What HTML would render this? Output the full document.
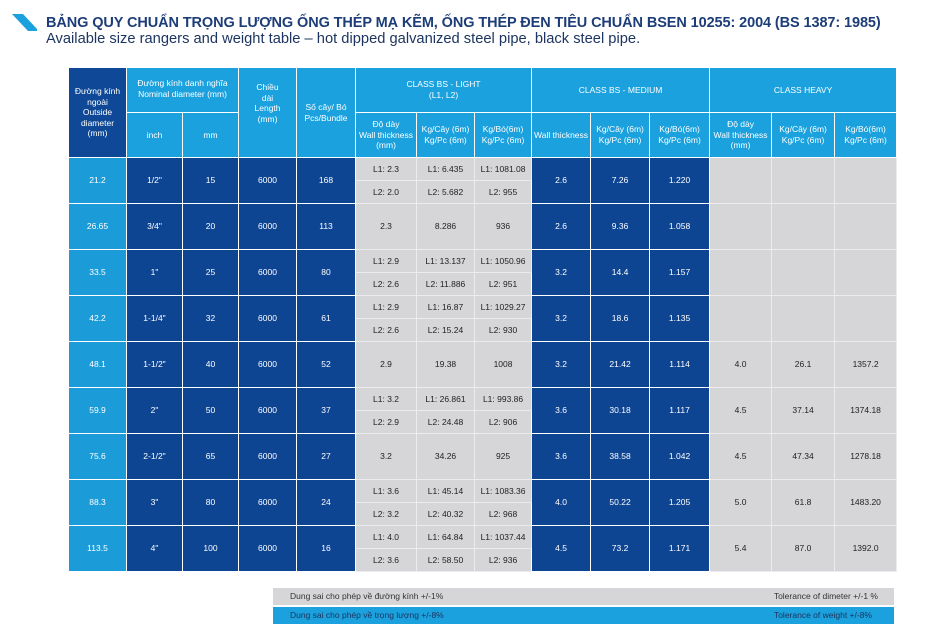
<!DOCTYPE html>
<html><head><meta charset="utf-8"><style>
body{margin:0;width:930px;height:643px;background:#fff;position:relative;overflow:hidden;font-family:"Liberation Sans","DejaVu Sans",sans-serif}
.t1{position:absolute;left:46px;top:15px;font-size:14.5px;font-weight:bold;color:#1d3d78;white-space:nowrap;letter-spacing:-0.1px}
.t2{position:absolute;left:46px;top:31px;font-size:14.7px;color:#1d3560;white-space:nowrap;letter-spacing:0}
table{position:absolute;left:68px;top:67px;border-collapse:collapse;table-layout:fixed;width:828px}
td{border:1px solid rgba(255,255,255,.55);text-align:center;vertical-align:middle;font-size:8.5px;padding:0;line-height:1.25;overflow:hidden}
.h{background:#1ba1dd;color:#fff;font-size:8.5px}
.hd{background:#0f4896;color:#fff;font-size:8.5px}
.b{background:#1b9bd8;color:#fff}
.d{background:#0e4593;color:#fff}
.g{background:#d6d6d9;color:#222;border-color:#ececee}
tr.hh{height:45px}
tr.r{height:23px}
.bar{position:absolute;left:273px;width:621px;height:17px;font-size:8.5px;line-height:17px}
.bar span{position:absolute}
</style></head><body>
<svg style="position:absolute;left:12px;top:14px" width="26" height="18"><polygon points="0,0 11,0 25,15 25,17 16,17" fill="#1ba1dd"/></svg>
<div class="t1">BẢNG QUY CHUẨN TRỌNG LƯỢNG ỐNG THÉP MẠ KẼM, ỐNG THÉP ĐEN TIÊU CHUẨN BSEN 10255: 2004 (BS 1387: 1985)</div>
<div class="t2">Available size rangers and weight table – hot dipped galvanized steel pipe, black steel pipe.</div>
<table>
<colgroup><col style="width:58px"><col style="width:56px"><col style="width:56px"><col style="width:58px"><col style="width:59px"><col style="width:61px"><col style="width:58px"><col style="width:57px"><col style="width:59px"><col style="width:59px"><col style="width:60px"><col style="width:62px"><col style="width:63px"><col style="width:62px"></colgroup>
<tr class="hh"><td class="hd" rowspan="2">Đường kính<br>ngoài<br>Outside<br>diameter<br>(mm)</td><td class="h" colspan="2" style="vertical-align:top;padding-top:10px">Đường kính danh nghĩa<br>Nominal diameter (mm)</td><td class="h" rowspan="2" style="vertical-align:top;padding-top:14px">Chiều<br>dài<br>Length<br>(mm)</td><td class="h" rowspan="2">Số cây/ Bó<br>Pcs/Bundle</td><td class="h" colspan="3">CLASS BS - LIGHT<br>(L1, L2)</td><td class="h" colspan="3">CLASS BS - MEDIUM</td><td class="h" colspan="3">CLASS HEAVY</td></tr>
<tr class="hh"><td class="h">inch</td><td class="h">mm</td><td class="h">Độ dày<br>Wall thickness<br>(mm)</td><td class="h">Kg/Cây (6m)<br>Kg/Pc (6m)</td><td class="h">Kg/Bó(6m)<br>Kg/Pc (6m)</td><td class="h">Wall thickness</td><td class="h">Kg/Cây (6m)<br>Kg/Pc (6m)</td><td class="h">Kg/Bó(6m)<br>Kg/Pc (6m)</td><td class="h">Độ dày<br>Wall thickness<br>(mm)</td><td class="h">Kg/Cây (6m)<br>Kg/Pc (6m)</td><td class="h">Kg/Bó(6m)<br>Kg/Pc (6m)</td></tr>

<tr class="r"><td class="b" rowspan="2">21.2</td><td class="d" rowspan="2">1/2"</td><td class="d" rowspan="2">15</td><td class="d" rowspan="2">6000</td><td class="d" rowspan="2">168</td><td class="g">L1: 2.3</td><td class="g">L1: 6.435</td><td class="g">L1: 1081.08</td><td class="d" rowspan="2">2.6</td><td class="d" rowspan="2">7.26</td><td class="d" rowspan="2">1.220</td><td class="g" rowspan="2"></td><td class="g" rowspan="2"></td><td class="g" rowspan="2"></td></tr>
<tr class="r"><td class="g">L2: 2.0</td><td class="g">L2: 5.682</td><td class="g">L2: 955</td></tr>

<tr class="r"><td class="b" rowspan="2">26.65</td><td class="d" rowspan="2">3/4"</td><td class="d" rowspan="2">20</td><td class="d" rowspan="2">6000</td><td class="d" rowspan="2">113</td><td class="g" rowspan="2">2.3</td><td class="g" rowspan="2">8.286</td><td class="g" rowspan="2">936</td><td class="d" rowspan="2">2.6</td><td class="d" rowspan="2">9.36</td><td class="d" rowspan="2">1.058</td><td class="g" rowspan="2"></td><td class="g" rowspan="2"></td><td class="g" rowspan="2"></td></tr>
<tr class="r"></tr>

<tr class="r"><td class="b" rowspan="2">33.5</td><td class="d" rowspan="2">1"</td><td class="d" rowspan="2">25</td><td class="d" rowspan="2">6000</td><td class="d" rowspan="2">80</td><td class="g">L1: 2.9</td><td class="g">L1: 13.137</td><td class="g">L1: 1050.96</td><td class="d" rowspan="2">3.2</td><td class="d" rowspan="2">14.4</td><td class="d" rowspan="2">1.157</td><td class="g" rowspan="2"></td><td class="g" rowspan="2"></td><td class="g" rowspan="2"></td></tr>
<tr class="r"><td class="g">L2: 2.6</td><td class="g">L2: 11.886</td><td class="g">L2: 951</td></tr>

<tr class="r"><td class="b" rowspan="2">42.2</td><td class="d" rowspan="2">1-1/4"</td><td class="d" rowspan="2">32</td><td class="d" rowspan="2">6000</td><td class="d" rowspan="2">61</td><td class="g">L1: 2.9</td><td class="g">L1: 16.87</td><td class="g">L1: 1029.27</td><td class="d" rowspan="2">3.2</td><td class="d" rowspan="2">18.6</td><td class="d" rowspan="2">1.135</td><td class="g" rowspan="2"></td><td class="g" rowspan="2"></td><td class="g" rowspan="2"></td></tr>
<tr class="r"><td class="g">L2: 2.6</td><td class="g">L2: 15.24</td><td class="g">L2: 930</td></tr>

<tr class="r"><td class="b" rowspan="2">48.1</td><td class="d" rowspan="2">1-1/2"</td><td class="d" rowspan="2">40</td><td class="d" rowspan="2">6000</td><td class="d" rowspan="2">52</td><td class="g" rowspan="2">2.9</td><td class="g" rowspan="2">19.38</td><td class="g" rowspan="2">1008</td><td class="d" rowspan="2">3.2</td><td class="d" rowspan="2">21.42</td><td class="d" rowspan="2">1.114</td><td class="g" rowspan="2">4.0</td><td class="g" rowspan="2">26.1</td><td class="g" rowspan="2">1357.2</td></tr>
<tr class="r"></tr>

<tr class="r"><td class="b" rowspan="2">59.9</td><td class="d" rowspan="2">2"</td><td class="d" rowspan="2">50</td><td class="d" rowspan="2">6000</td><td class="d" rowspan="2">37</td><td class="g">L1: 3.2</td><td class="g">L1: 26.861</td><td class="g">L1: 993.86</td><td class="d" rowspan="2">3.6</td><td class="d" rowspan="2">30.18</td><td class="d" rowspan="2">1.117</td><td class="g" rowspan="2">4.5</td><td class="g" rowspan="2">37.14</td><td class="g" rowspan="2">1374.18</td></tr>
<tr class="r"><td class="g">L2: 2.9</td><td class="g">L2: 24.48</td><td class="g">L2: 906</td></tr>

<tr class="r"><td class="b" rowspan="2">75.6</td><td class="d" rowspan="2">2-1/2"</td><td class="d" rowspan="2">65</td><td class="d" rowspan="2">6000</td><td class="d" rowspan="2">27</td><td class="g" rowspan="2">3.2</td><td class="g" rowspan="2">34.26</td><td class="g" rowspan="2">925</td><td class="d" rowspan="2">3.6</td><td class="d" rowspan="2">38.58</td><td class="d" rowspan="2">1.042</td><td class="g" rowspan="2">4.5</td><td class="g" rowspan="2">47.34</td><td class="g" rowspan="2">1278.18</td></tr>
<tr class="r"></tr>

<tr class="r"><td class="b" rowspan="2">88.3</td><td class="d" rowspan="2">3"</td><td class="d" rowspan="2">80</td><td class="d" rowspan="2">6000</td><td class="d" rowspan="2">24</td><td class="g">L1: 3.6</td><td class="g">L1: 45.14</td><td class="g">L1: 1083.36</td><td class="d" rowspan="2">4.0</td><td class="d" rowspan="2">50.22</td><td class="d" rowspan="2">1.205</td><td class="g" rowspan="2">5.0</td><td class="g" rowspan="2">61.8</td><td class="g" rowspan="2">1483.20</td></tr>
<tr class="r"><td class="g">L2: 3.2</td><td class="g">L2: 40.32</td><td class="g">L2: 968</td></tr>

<tr class="r"><td class="b" rowspan="2">113.5</td><td class="d" rowspan="2">4"</td><td class="d" rowspan="2">100</td><td class="d" rowspan="2">6000</td><td class="d" rowspan="2">16</td><td class="g">L1: 4.0</td><td class="g">L1: 64.84</td><td class="g">L1: 1037.44</td><td class="d" rowspan="2">4.5</td><td class="d" rowspan="2">73.2</td><td class="d" rowspan="2">1.171</td><td class="g" rowspan="2">5.4</td><td class="g" rowspan="2">87.0</td><td class="g" rowspan="2">1392.0</td></tr>
<tr class="r"><td class="g">L2: 3.6</td><td class="g">L2: 58.50</td><td class="g">L2: 936</td></tr>
</table>
<div class="bar" style="top:588px;background:#d6d6d9;color:#333"><span style="left:17px">Dung sai cho phép về đường kính +/-1%</span><span style="right:16px">Tolerance of dimeter +/-1 %</span></div>
<div class="bar" style="top:607px;background:#1ba1dd;color:#1d3560"><span style="left:17px">Dung sai cho phép về trọng lượng +/-8%</span><span style="right:22px">Tolerance of weight +/-8%</span></div>
</body></html>
